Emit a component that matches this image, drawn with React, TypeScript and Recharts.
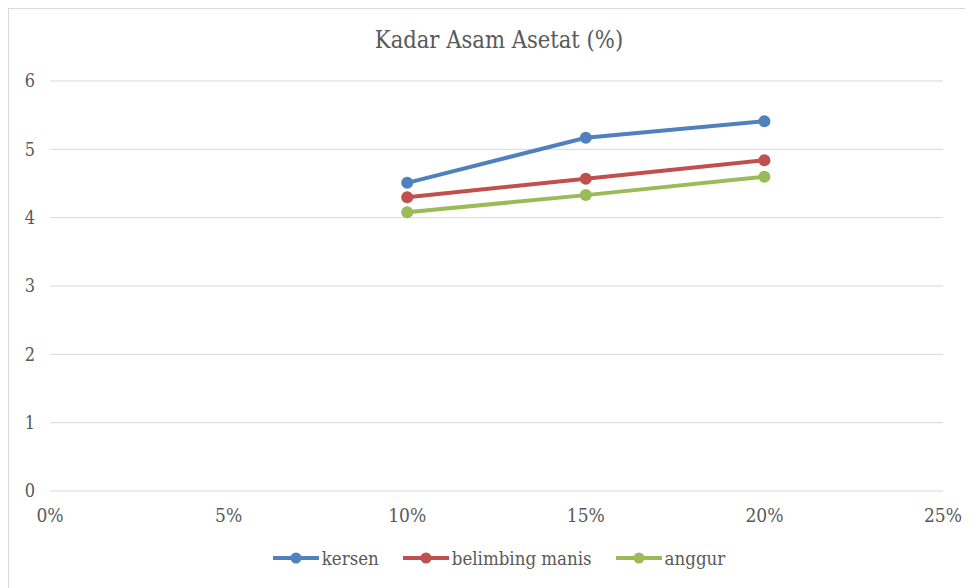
import React from 'react';
import { LineChart, Line, XAxis, YAxis, CartesianGrid, Legend } from 'recharts';

const concentrations = [0.1, 0.15, 0.2];
const kersen = [4.51, 5.17, 5.41];
const belimbingManis = [4.3, 4.57, 4.84];
const anggur = [4.08, 4.33, 4.6];
const xTicks = [0, 0.05, 0.1, 0.15, 0.2, 0.25];
const yTicks = [0, 1, 2, 3, 4, 5, 6];

const seriesDefs = [
  { key: 'kersen', name: 'kersen', color: '#4f81bd' },
  { key: 'belimbing', name: 'belimbing manis', color: '#c0504d' },
  { key: 'anggur', name: 'anggur', color: '#9bbb59' },
];

const data = concentrations.map((x, i) => ({
  x,
  kersen: kersen[i],
  belimbing: belimbingManis[i],
  anggur: anggur[i],
}));

const FONT = "'DejaVu Serif Condensed', 'DejaVu Serif', serif";

const LegendContent = () => (
  <div style={{ display: 'flex', justifyContent: 'center', alignItems: 'center', gap: 24, height: 24, paddingLeft: 16, fontFamily: FONT, fontStretch: 'condensed', fontSize: 18.5, color: '#595959' }}>
    {seriesDefs.map((s) => (
      <div key={s.key} style={{ display: 'flex', alignItems: 'center' }}>
        <svg width={46} height={14} style={{ marginRight: 3 }}>
          <line x1={0} y1={7} x2={46} y2={7} stroke={s.color} strokeWidth={4} />
          <circle cx={23} cy={7} r={5.5} fill={s.color} />
        </svg>
        <span>{s.name}</span>
      </div>
    ))}
  </div>
);

export default function App() {
  return (
    <div style={{ position: 'relative', width: 964, height: 579, border: '1px solid #d9d9d9', background: '#fff', fontFamily: FONT, fontStretch: 'condensed' }}>
      <div style={{ position: 'absolute', top: 17, left: 8, width: 964, textAlign: 'center', fontFamily: FONT, fontStretch: 'condensed', fontSize: 23.5, color: '#595959' }}>
        Kadar Asam Asetat (%)
      </div>
      <LineChart width={964} height={579} data={data} margin={{ top: 72, right: 30, bottom: 43, left: 0 }} style={{ fontStretch: 'condensed' }}>
        <CartesianGrid horizontal={true} vertical={false} stroke="#d9d9d9" strokeWidth={1} />
        <XAxis
          dataKey="x"
          type="number"
          domain={[0, 0.25]}
          ticks={xTicks}
          tickFormatter={(v: number) => `${Math.round(v * 100)}%`}
          axisLine={false}
          tickLine={false}
          tickSize={0}
          tickMargin={18}
          height={30}
          tick={{ fill: '#595959', fontSize: 19, fontFamily: FONT }}
          interval={0}
        />
        <YAxis
          type="number"
          domain={[0, 6]}
          ticks={yTicks}
          axisLine={false}
          tickLine={false}
          tickSize={0}
          tickMargin={15}
          width={41}
          tick={{ fill: '#595959', fontSize: 18, fontFamily: FONT }}
          interval={0}
        />
        {seriesDefs.map((s) => (
          <Line
            key={s.key}
            type="linear"
            dataKey={s.key}
            name={s.name}
            stroke={s.color}
            strokeWidth={4}
            dot={{ r: 6, fill: s.color, stroke: s.color, strokeWidth: 0 }}
            activeDot={false}
            isAnimationActive={false}
          />
        ))}
        <Legend content={<LegendContent />} wrapperStyle={{ top: 537, left: 0, width: 964, height: 24 }} />
      </LineChart>
    </div>
  );
}
